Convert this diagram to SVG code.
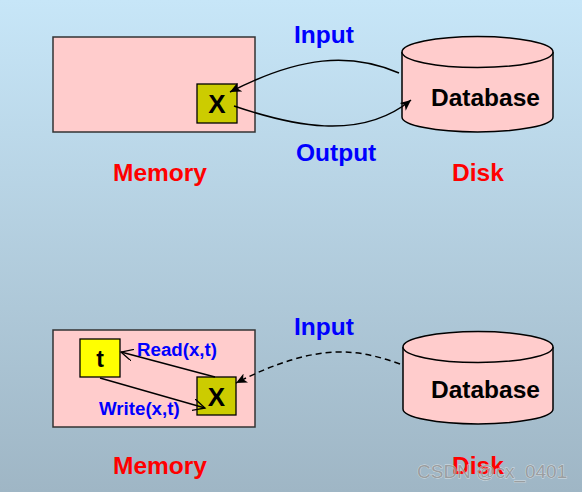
<svg xmlns="http://www.w3.org/2000/svg" width="582" height="492" viewBox="0 0 582 492">
<defs>
<linearGradient id="bg" x1="0" y1="0" x2="0" y2="1">
<stop offset="0" stop-color="#c7e6f8"/>
<stop offset="1" stop-color="#9fb6c5"/>
</linearGradient>
<marker id="fa" markerWidth="12" markerHeight="10" refX="11" refY="5" orient="auto" markerUnits="userSpaceOnUse">
<path d="M0,0 L11,5 L0,10 L3,5 Z" fill="#000"/>
</marker>
<marker id="oa" markerWidth="14" markerHeight="12" refX="12" refY="6" orient="auto" markerUnits="userSpaceOnUse">
<path d="M0,0 L12,6 L0,12" fill="none" stroke="#000" stroke-width="1.3"/>
</marker>
<style>
.mem{fill:#ffcccc;stroke:#333;stroke-width:1.5}
.xb{fill:#cccc00;stroke:#000;stroke-width:1.3}
.tb{fill:#ffff00;stroke:#000;stroke-width:1.3}
.cyl{fill:#ffcccc;stroke:#000;stroke-width:1.5}
.t{font-family:"Liberation Sans",Arial,sans-serif;font-weight:bold}
.blue{fill:#0000ff;font-size:24.5px}
.red{fill:#ff0000;font-size:24.5px}
.db{fill:#000;font-size:24.5px}
.small{fill:#0000ff;font-size:18.7px}
.c{fill:none;stroke:#000;stroke-width:1.5}
</style>
</defs>
<rect width="582" height="492" fill="url(#bg)"/>

<g id="memory-top">
<rect class="mem" x="53" y="37" width="202" height="95"/>
</g>
<g id="x-top">
<rect class="xb" x="197" y="84" width="40" height="39"/>
<text class="t" x="217" y="113" font-size="26" text-anchor="middle">X</text>
</g>
<g id="disk-top">
<path class="cyl" d="M402,52 L402,117 A75.5,15 0 0 0 553,117 L553,52 A75.5,15.5 0 0 0 402,52 Z"/>
<path class="cyl" d="M402,52 A75.5,15.5 0 0 0 553,52" fill="none"/>
<text class="t db" x="431" y="106">Database</text>
</g>
<g id="labels-top">
<text class="t blue" x="294" y="43">Input</text>
<text class="t blue" x="296" y="161">Output</text>
<text class="t red" x="113" y="181">Memory</text>
<text class="t red" x="452" y="181">Disk</text>
</g>

<g id="memory-bottom">
<rect class="mem" x="53" y="330" width="202" height="97"/>
</g>
<g id="t-bottom">
<rect class="tb" x="80" y="339" width="40" height="38"/>
<text class="t" x="100" y="367" font-size="23" text-anchor="middle">t</text>
</g>
<g id="x-bottom">
<rect class="xb" x="197" y="377" width="39" height="38"/>
<text class="t" x="216.5" y="406" font-size="26" text-anchor="middle">X</text>
</g>
<g id="disk-bottom">
<path class="cyl" d="M403,347 L403,409 A75,15 0 0 0 553,409 L553,347 A75,15.5 0 0 0 403,347 Z"/>
<path class="cyl" d="M403,347 A75,15.5 0 0 0 553,347" fill="none"/>
<text class="t db" x="431" y="398">Database</text>
</g>
<g id="labels-bottom">
<text class="t blue" x="294" y="335">Input</text>
<text class="t small" x="137" y="356">Read(x,t)</text>
<text class="t small" x="99" y="415">Write(x,t)</text>
<text class="t red" x="113" y="474">Memory</text>
<text class="t red" x="452" y="474">Disk</text>
</g>

<g id="connectors">
<path class="c" d="M399,73 C350,52 300,56 230,92" marker-end="url(#fa)"/>
<path class="c" d="M234,106 C290,125 360,142 411,100" marker-end="url(#fa)"/>
<path class="c" d="M400,364 C360,350 320,340 236,383" stroke-dasharray="6,4" marker-end="url(#fa)"/>
<path class="c" d="M215,377 L121,352" stroke-width="1.3" marker-end="url(#oa)"/>
<path class="c" d="M100,378 L205,408" stroke-width="1.3" marker-end="url(#oa)"/>
</g>

<text x="417" y="478" font-family="'Liberation Sans',Arial,sans-serif" font-size="19" fill="#9a9a9a" stroke="#ffffff" stroke-width="0.8" stroke-opacity="0.7" paint-order="stroke" opacity="0.85">CSDN @cx_0401</text>
</svg>
